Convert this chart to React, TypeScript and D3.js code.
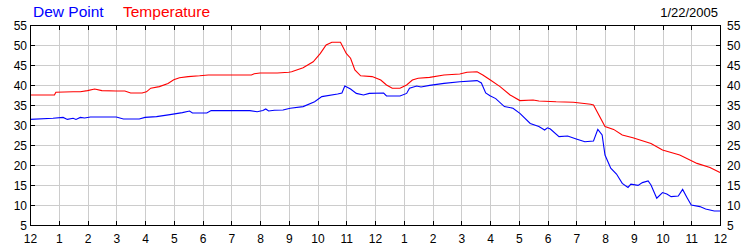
import React from "react";
import * as d3 from "d3";

const hourLabels = ["12","1","2","3","4","5","6","7","8","9","10","11","12","1","2","3","4","5","6","7","8","9","10","11","12"];
const yTicks = [5, 10, 15, 20, 25, 30, 35, 40, 45, 50, 55];

const tempHours = [0,0.85,0.9,1.5,1.75,2.0,2.25,2.5,3.0,3.3,3.5,3.9,4.05,4.2,4.5,4.8,5.0,5.2,5.5,5.9,6.2,7.0,7.7,7.8,8.0,8.6,9.0,9.1,9.5,9.85,10.1,10.3,10.5,10.8,11.0,11.15,11.3,11.5,11.9,12.2,12.4,12.6,12.87,13.1,13.3,13.5,13.9,14.4,14.95,15.2,15.55,15.75,16.0,16.35,16.7,17.04,17.5,17.7,18.3,18.9,19.5,19.6,20.0,20.3,20.6,20.97,21.6,22.0,22.6,23.2,23.65,24];
const tempValues = [37.5,37.5,38.2,38.3,38.3,38.6,39.0,38.6,38.5,38.5,38.0,38.0,38.3,39.2,39.6,40.4,41.3,41.8,42.1,42.3,42.5,42.5,42.5,42.8,43.0,43.0,43.2,43.3,44.3,45.8,47.9,50.0,50.7,50.7,47.9,46.7,43.75,42.3,42.1,41.25,40.0,39.2,39.2,40.0,41.25,41.7,41.9,42.5,42.75,43.2,43.3,42.5,41.3,39.6,37.5,36.1,36.25,36.0,35.8,35.7,35.2,35.0,29.6,28.9,27.5,26.8,25.4,23.75,22.5,20.4,19.4,18.1];

const dewHours = [0,0.8,1.15,1.3,1.5,1.6,1.75,1.9,2.1,3.0,3.25,3.8,4.0,4.4,4.87,5.3,5.55,5.65,6.15,6.3,7.65,7.9,8.1,8.2,8.3,8.5,8.8,9.05,9.5,9.9,10.15,10.7,10.85,10.95,11.05,11.15,11.35,11.6,11.8,12.3,12.4,12.87,13.1,13.2,13.45,13.6,13.9,14.4,14.95,15.55,15.7,15.85,16.0,16.2,16.5,16.8,17.04,17.4,17.7,17.9,18.0,18.1,18.4,18.7,19.0,19.3,19.6,19.75,19.9,20.0,20.2,20.4,20.6,20.8,20.9,21.15,21.3,21.5,21.6,21.8,22.0,22.15,22.3,22.55,22.7,22.85,23.0,23.3,23.5,23.8,24];
const dewValues = [31.4,31.7,31.9,31.4,31.7,31.4,31.9,31.75,32.0,32.0,31.5,31.5,31.9,32.1,32.6,33.1,33.5,33.0,33.0,33.6,33.6,33.3,33.6,34.0,33.5,33.7,33.75,34.2,34.6,35.8,37.1,37.75,38.0,39.75,39.4,39.0,37.9,37.5,37.9,38.0,37.25,37.25,37.9,39.2,39.75,39.5,39.9,40.4,40.8,41.1,40.5,38.0,37.3,36.6,34.6,34.2,32.9,30.4,29.6,28.75,29.3,29.0,27.1,27.25,26.5,25.8,26.0,28.9,27.5,22.5,19.2,17.75,15.4,14.4,15.2,14.9,15.6,16.0,15.0,11.7,13.1,12.75,12.1,12.25,13.9,11.9,10.0,9.6,9.0,8.5,8.5];

const seriesNames = ["Dew Point", "Temperature"];
const dateLabel = "1/22/2005";

export default function App() {
  const W = 750, H = 250;
  const left = 30, right = 720, top = 25, bottom = 225;
  const x = d3.scaleLinear().domain([0, 24]).range([left, right]);
  const y = d3.scaleLinear().domain([5, 55]).range([bottom, top]);
  const line = d3.line<[number, number]>().x(d => x(d[0])).y(d => y(d[1]));
  const tempPts: [number, number][] = tempHours.map((h, i) => [h, tempValues[i]]);
  const dewPts: [number, number][] = dewHours.map((h, i) => [h, dewValues[i]]);
  const hours = d3.range(0, 25);
  const font = "'Liberation Sans', Arial, sans-serif";
  const grid = "#cccccc";

  return (
    <svg width={W} height={H} style={{ position: "absolute", left: 0, top: 0, background: "#fff" }} fontFamily={font}>
      <rect x={0} y={0} width={W} height={H} fill="#fff" />
      {hours.slice(1, 24).map(h => (
        <line key={"gx" + h} x1={x(h) + 0.5} x2={x(h) + 0.5} y1={top} y2={bottom} stroke={grid} strokeWidth={1} shapeRendering="crispEdges" />
      ))}
      {yTicks.slice(1, -1).map(v => (
        <line key={"gy" + v} x1={left} x2={right} y1={y(v) + 0.5} y2={y(v) + 0.5} stroke={grid} strokeWidth={1} shapeRendering="crispEdges" />
      ))}
      <path d={line(dewPts) || ""} fill="none" stroke="#0000ff" strokeWidth={1.1} />
      <path d={line(tempPts) || ""} fill="none" stroke="#ff0000" strokeWidth={1.1} />
      <rect x={left + 0.5} y={top + 0.5} width={right - left} height={bottom - top} fill="none" stroke="#000" strokeWidth={1} shapeRendering="crispEdges" />
      {hours.slice(1, 24).map(h => (
        <g key={"tx" + h}>
          <line x1={x(h) + 0.5} x2={x(h) + 0.5} y1={top} y2={top + 5} stroke="#000" shapeRendering="crispEdges" />
          <line x1={x(h) + 0.5} x2={x(h) + 0.5} y1={bottom - 4} y2={bottom + 1} stroke="#000" shapeRendering="crispEdges" />
        </g>
      ))}
      {yTicks.slice(1, -1).map(v => (
        <g key={"ty" + v}>
          <line x1={left} x2={left + 5} y1={y(v) + 0.5} y2={y(v) + 0.5} stroke="#000" shapeRendering="crispEdges" />
          <line x1={right - 4} x2={right + 1} y1={y(v) + 0.5} y2={y(v) + 0.5} stroke="#000" shapeRendering="crispEdges" />
        </g>
      ))}
      {yTicks.map(v => (
        <g key={"ly" + v} fontSize={12} fill="#000">
          <text x={left - 3} y={y(v) + 4.5} textAnchor="end">{v}</text>
          <text x={right + 7} y={y(v) + 4.5} textAnchor="start">{v}</text>
        </g>
      ))}
      {hours.map(h => (
        <text key={"lx" + h} x={x(h) + 0.5} y={243} fontSize={12} textAnchor="middle" fill="#000">{hourLabels[h]}</text>
      ))}
      <text x={33} y={17} fontSize={15.5} fill="#0000ff">{seriesNames[0]}</text>
      <text x={123} y={17} fontSize={15.5} fill="#ff0000">{seriesNames[1]}</text>
      <text x={718} y={17} fontSize={13} textAnchor="end" fill="#000">{dateLabel}</text>
    </svg>
  );
}
